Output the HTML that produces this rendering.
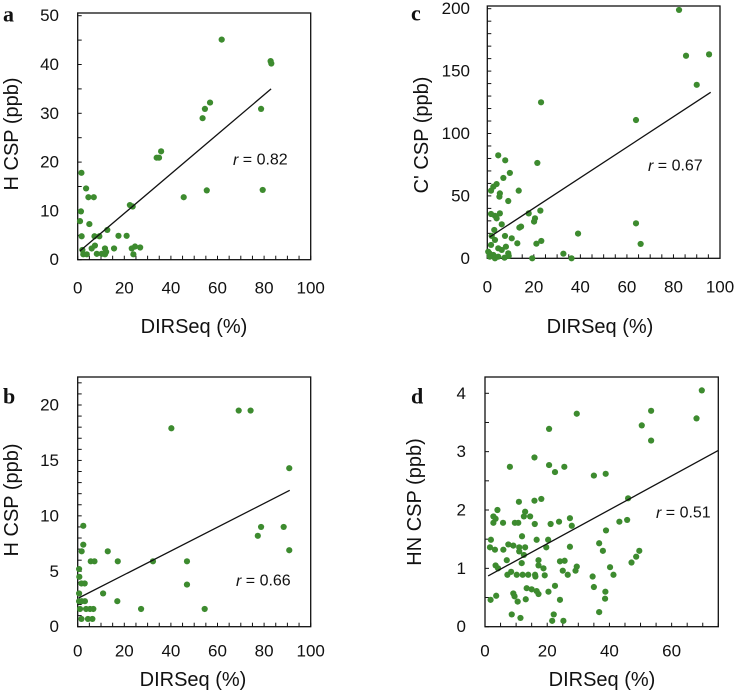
<!DOCTYPE html>
<html><head><meta charset="utf-8"><style>
html,body{margin:0;padding:0;background:#fff;width:735px;height:692px;overflow:hidden}
svg{display:block;font-family:"Liberation Sans",Arial,sans-serif}
</style></head><body>
<svg id="fig" width="735" height="692" viewBox="0 0 735 692"></svg>
<script>
// Panel a data
const aX=[61.8,82.8,83.1,54.6,53.6,56.8,78.7,35.8,33.9,34.9,45.5,55.4,79.4,1.6,3.6,4.6,6.9,1.4,1.0,5.0,1.7,7.2,9.3,12.7,17.5,21.0,22.4,23.6,15.6,2.0,6.0,7.4,2.4,3.9,8.2,10.3,11.7,12.2,11.7,23.9,24.6,26.8,23.2];
const aY=[45.1,40.7,40.2,30.9,29.0,32.2,30.9,22.2,20.9,20.9,12.8,14.2,14.3,17.8,14.6,12.8,12.8,9.9,7.9,7.3,4.8,4.8,4.8,6.1,4.9,4.9,11.2,10.9,2.3,2.0,2.3,2.9,1.1,1.1,1.2,1.2,2.3,1.6,1.1,1.1,2.7,2.5,2.3];
const aFit=[[1,1.8],[83,35]];
// Panel c data
const cX=[82.4,85.4,95.3,90.0,23.1,63.9,63.9,65.9,21.5,4.7,7.7,9.7,6.9,4.0,2.6,1.6,5.4,5.2,9.0,13.5,17.8,20.5,20.1,22.8,21.1,23.2,14.5,13.8,10.5,12.9,39.0,32.7,36.2,19.3,1.6,3.3,4.0,5.4,3.0,6.2,7.6,1.9,3.3,1.6,4.7,6.2,8.0,9.0,9.2,7.4,0.9,3.3,2.6,1.1,4.7,0.4];
const cY=[199,162.3,163.4,139,125,110.8,28,11.5,76.4,82.5,78.5,68.4,64.4,59.5,57.4,54.2,52,49.4,45.9,54.2,36,32,29.4,38.2,11.7,13.9,25.4,24.6,16,12,19.8,3.7,0,0,35.5,34,32,36,22.7,27.2,17.9,17.9,14.7,10.7,8,6.7,9.3,4,1.9,0.5,4,0,2.7,1.3,1.3,5.3];
const cFit=[[1,17],[96,133]];
// Panel b data
const bX=[69.1,74.2,40.2,90.8,78.7,77.3,88.4,90.8,46.9,46.9,32.3,54.5,27.2,17.0,10.9,17.2,12.9,2.4,2.4,1.7,5.6,7.2,0.6,0.7,1.6,3.0,0.6,0.6,1.7,3.1,1.0,3.6,5.3,6.7,1.6,4.4,6.3];
const bY=[19.5,19.5,17.9,14.3,9.0,8.2,9.0,6.9,5.9,3.8,5.9,1.6,1.6,2.3,3.0,5.9,6.8,9.1,7.4,6.8,5.9,5.9,5.2,4.5,3.9,3.9,3.0,2.3,2.3,2.3,1.6,1.6,1.6,1.6,0.7,0.7,0.7];
const bFit=[[0.5,2.6],[91,12.3]];
// Panel d data
const dX=[69.7,53.4,68.0,50.4,53.4,29.5,20.6,15.9,20.6,25.5,22.5,8.0,35.0,38.8,46.0,18.1,15.9,10.9,4.0,2.7,3.4,2.7,5.8,9.6,10.7,12.5,14.5,12.9,16.0,21.1,23.8,27.3,27.9,43.2,45.7,38.9,1.9,1.6,3.2,5.9,7.5,9.1,11.0,11.0,11.9,12.9,12.5,16.6,20.3,19.7,27.3,36.7,37.9,49.6,48.6,47.1,3.4,4.2,7.0,11.8,17.2,17.2,18.8,24.1,25.6,25.0,29.5,29.1,26.6,40.2,41.3,34.6,7.2,8.4,10.2,12.1,13.9,16.1,16.2,19.2,13.4,15.0,16.6,17.2,20.4,22.5,35.0,38.7,38.6,9.1,9.5,10.5,13.1,1.8,3.6,24.1,36.7,8.6,11.4,22.1,21.6,25.2];
const dY=[4.05,3.70,3.57,3.45,3.19,3.65,3.39,2.90,2.77,2.74,2.65,2.74,2.59,2.62,2.20,2.19,2.16,2.14,2.00,1.89,1.85,1.78,1.78,1.78,1.78,1.89,1.89,1.97,1.76,1.76,1.80,1.86,1.73,1.80,1.83,1.65,1.49,1.36,1.32,1.32,1.41,1.39,1.36,1.29,1.55,1.36,1.23,1.49,1.49,1.36,1.37,1.43,1.30,1.30,1.20,1.10,1.05,1.00,1.14,1.09,1.14,1.05,1.00,1.12,1.13,0.96,1.03,0.96,0.89,1.02,0.89,0.86,0.89,0.94,0.89,0.89,0.89,0.89,0.86,0.88,0.66,0.64,0.61,0.56,0.60,0.70,0.68,0.60,0.48,0.57,0.52,0.43,0.47,0.46,0.53,0.46,0.25,0.21,0.15,0.21,0.10,0.10];
const dFit=[[1,0.87],[75,3.02]];

const aXTicks=[0,20,40,60,80,100], aYTicks=[0,10,20,30,40,50];
const cXTicks=[0,20,40,60,80,100], cYTicks=[0,50,100,150,200];
const bXTicks=[0,20,40,60,80,100], bYTicks=[0,5,10,15,20];
const dXTicks=[0,20,40,60], dYTicks=[0,1,2,3,4];

const NS="http://www.w3.org/2000/svg";
const svg=document.getElementById('fig');
function mk(tag,attrs,parent){const e=document.createElementNS(NS,tag);for(const k in attrs)e.setAttribute(k,attrs[k]);(parent||svg).appendChild(e);return e;}

function panel(p){
  const g=mk('g',{});
  
  
  const sx=v=>p.L+(v-p.xmin)/(p.xmax-p.xmin)*(p.R-p.L);
  const sy=v=>p.B-(v-p.ymin)/(p.y1v-p.ymin)*(p.B-p.y1px);
  const fr=mk('rect',{x:p.L,y:p.T,width:p.R-p.L,height:p.B-p.T,fill:'none',stroke:'#111','stroke-width':1.3},g);
  
  
  for(let v=p.xmin;v<=p.xmax+1e-9;v+=p.xminor){const x=sx(v);mk('line',{x1:x,x2:x,y1:p.B,y2:p.B-4,stroke:'#111','stroke-width':1},g);}
  for(let v=p.ymin;sy(v)>=p.T-0.5;v+=p.yminor){const y=sy(v);mk('line',{x1:p.L,x2:p.L+4,y1:y,y2:y,stroke:'#111','stroke-width':1},g);}
  p.xt.forEach(v=>{const t=mk('text',{x:sx(v),y:p.xlY,'text-anchor':'middle','dominant-baseline':'central','font-size':17,fill:'#111'},g);t.textContent=v;
    
    });
  p.yt.forEach(v=>{const t=mk('text',{x:p.ylX,y:sy(v),'text-anchor':'end','dominant-baseline':'central','font-size':17,fill:'#111'},g);t.textContent=v;
    
    });
  p.X.forEach((x,i)=>{const c=mk('circle',{cx:sx(x),cy:sy(p.Y[i]),r:3.1,fill:'#3d8b2f'},g);
    
    });
  const ln=mk('line',{x1:sx(p.fit[0][0]),y1:sy(p.fit[0][1]),x2:sx(p.fit[1][0]),y2:sy(p.fit[1][1]),stroke:'#111','stroke-width':1.3},g);
  
  
  const r=mk('text',{x:p.rX,y:p.rY,'dominant-baseline':'central','font-size':16,fill:'#111'},g);
  r.innerHTML='<tspan font-style="italic">r</tspan> = '+p.r;
  
  
  const xt=mk('text',{x:p.xtX,y:p.xtY,'text-anchor':'middle','dominant-baseline':'central','font-size':20,fill:'#111'},g);xt.textContent='DIRSeq (%)';
  
  
  const yt=mk('text',{x:0,y:0,transform:`translate(${p.ytX},${p.ytY}) rotate(-90)`,'text-anchor':'middle','dominant-baseline':'central','font-size':20,fill:'#111'},g);yt.textContent=p.ytitle;
  
  
  const lt=mk('text',{x:p.lX,y:p.lY,'dominant-baseline':'central','font-size':22,'font-weight':'bold','font-family':'"Liberation Serif",serif',fill:'#111'},g);lt.textContent=p.id;
  
  
}
panel({id:'a',L:77.7,R:310.7,T:13,B:259.7,xmin:0,xmax:100,ymin:0,y1v:50,y1px:15.7,xminor:5,yminor:5,xt:aXTicks,yt:aYTicks,xlY:288,ylX:59,X:aX,Y:aY,fit:aFit,r:'0.82',rX:233,rY:160,xtX:194,xtY:327,ytX:12,ytY:134,ytitle:'H CSP (ppb)',lX:3,lY:14});
panel({id:'c',L:487.3,R:720,T:6,B:258.3,xmin:0,xmax:100,ymin:0,y1v:200,y1px:8.7,xminor:5,yminor:10,xt:cXTicks,yt:cYTicks,xlY:287,ylX:470,X:cX,Y:cY,fit:cFit,r:'0.67',rX:648,rY:166,xtX:600,xtY:327,ytX:422,ytY:135,ytitle:"C' CSP (ppb)",lX:411,lY:13});
panel({id:'b',L:77.7,R:310.7,T:377,B:626.7,xmin:0,xmax:100,ymin:0,y1v:20,y1px:405,xminor:5,yminor:1,xt:bXTicks,yt:bYTicks,xlY:651,ylX:59,X:bX,Y:bY,fit:bFit,r:'0.66',rX:236,rY:581,xtX:193,xtY:680,ytX:12,ytY:500,ytitle:'H CSP (ppb)',lX:3,lY:396});
panel({id:'d',L:485,R:718.3,T:377,B:626.7,xmin:0,xmax:75,ymin:0,y1v:4,y1px:393.3,xminor:5,yminor:0.5,xt:dXTicks,yt:dYTicks,xlY:651,ylX:466,X:dX,Y:dY,fit:dFit,r:'0.51',rX:656,rY:513,xtX:602,xtY:680,ytX:415,ytY:502,ytitle:'HN CSP (ppb)',lX:411,lY:396});
</script>
</body></html>
